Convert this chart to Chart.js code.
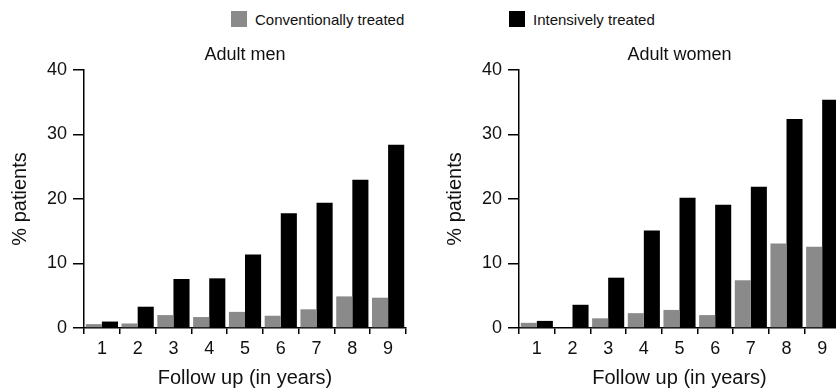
<!DOCTYPE html>
<html>
<head>
<meta charset="utf-8">
<script src="https://cdn.jsdelivr.net/npm/chart.js@4/dist/chart.umd.min.js"></script>
<style>
  body { margin: 0; background: #fff; overflow: hidden; }
  #wrap { position: relative; width: 836px; height: 388px; overflow: hidden; font-family: "Liberation Sans", Arial, sans-serif; color: #111; }
  canvas { position: absolute; top: 0; }
  .key { position: absolute; top: 11px; height: 17px; line-height: 17px; font-size: 15px; white-space: nowrap; }
  .key span { display: inline-block; width: 16px; height: 16px; vertical-align: top; margin-right: 8px; }
</style>
</head>
<body>
<div id="wrap">
  <div class="key" style="left:231px"><span style="background:#8a8a8a"></span>Conventionally treated</div>
  <div class="key" style="left:509px"><span style="background:#000"></span>Intensively treated</div>
  <canvas id="men" width="418" height="388" style="left:0px"></canvas>
  <canvas id="women" width="405" height="388" style="left:435px"></canvas>
</div>
<script>
// follow up years (x categories)
const years = ['1', '2', '3', '4', '5', '6', '7', '8', '9'];
const seriesNames = ['Conventionally treated', 'Intensively treated'];
const yMax = 40;
const yStep = 10;

// % patients, adult men
const menConventional = [0.6, 0.7, 2.0, 1.7, 2.5, 1.9, 2.9, 4.9, 4.7];
const menIntensive = [1.0, 3.3, 7.6, 7.7, 11.4, 17.8, 19.4, 23.0, 28.4];

// % patients, adult women
const womenConventional = [0.8, 0.0, 1.5, 2.3, 2.8, 2.0, 7.4, 13.1, 12.6];
const womenIntensive = [1.1, 3.6, 7.8, 15.1, 20.2, 19.1, 21.9, 32.4, 35.4];

Chart.defaults.font.family = '"Liberation Sans", Arial, sans-serif';
Chart.defaults.color = '#111';

//build one panel
function makePanel(id, title, conv, inten, padRight) {
  return new Chart(document.getElementById(id), {
    type: 'bar',
    data: {
      labels: years,
      datasets: [{
        label: seriesNames[0],
        data: conv,
        backgroundColor: '#8a8a8a',
        borderWidth: 0
      }, {
        label: seriesNames[1],
        data: inten,
        backgroundColor: '#000',
        borderWidth: 0
      }]
    },
    options: {
      responsive: false,
      animation: false,
      layout: {
        padding: { top: 44.2, right: padRight, left: 0, bottom: 0 }
      },
      datasets: {
        bar: { categoryPercentage: 0.9, barPercentage: 1.0 }
      },
      plugins: {
        legend: { display: false },
        tooltip: { enabled: false },
        title: {
          display: true,
          text: title,
          fullSize: false,
          font: { size: 18, weight: 'normal' },
          padding: { top: 0, bottom: 4.2 }
        }
      },
      scales: {
        y: {
          min: 0,
          max: yMax,
          afterFit: (s) => { s.width = 84; },
          ticks: { stepSize: yStep, padding: 6, font: { size: 18 } },
          border: { color: '#000', width: 1.5 },
          grid: { drawOnChartArea: false, tickLength: 11, color: '#000', lineWidth: 1.5 },
          title: {
            display: true,
            text: "% patients",
            font: { size: 20, lineHeight: 1 },
            padding: { top: 10.5, bottom: 0 }
          }
        },
        x: {
          afterFit: (s) => { s.height = 60; },
          ticks: { padding: 4, font: { size: 18 } },
          border: { color: '#000', width: 1.5 },
          grid: { offset: true, drawOnChartArea: false, tickLength: 6, color: '#000', lineWidth: 1.5 },
          title: {
            display: true,
            text: "Follow up (in years)",
            font: { size: 20, lineHeight: 1 },
            padding: 0
          }
        }
      }
    }
  });
}

let menChart = makePanel('men', 'Adult men', menConventional, menIntensive, 12);
let womenChart = makePanel('women', 'Adult women', womenConventional, womenIntensive, 0);
</script>
</body>
</html>
